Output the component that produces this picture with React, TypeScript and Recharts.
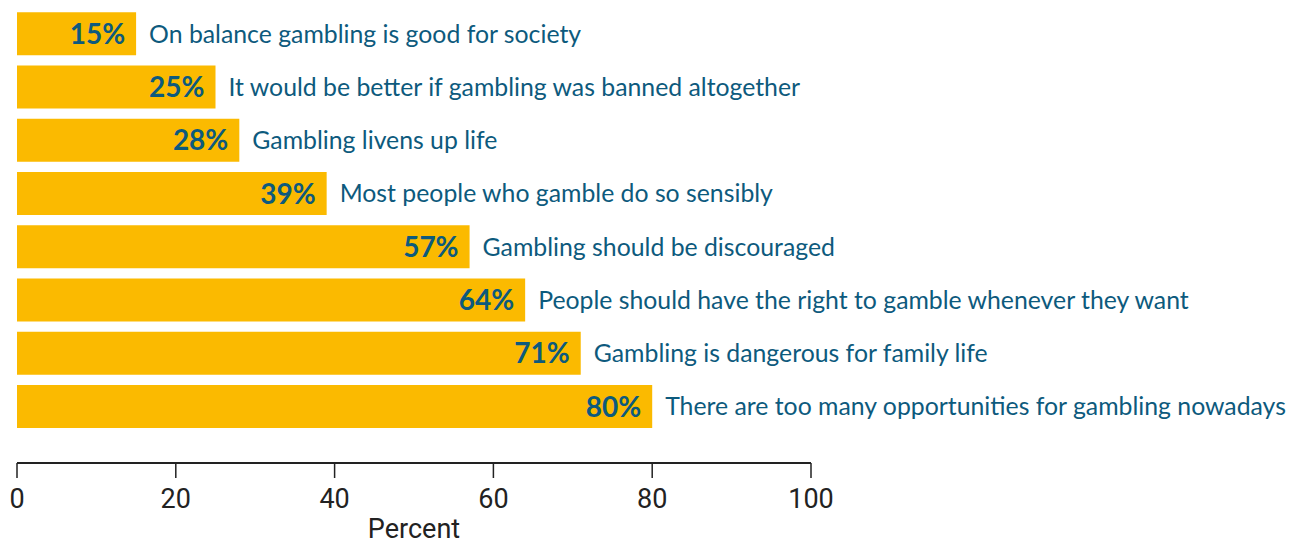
import React from "react";
import { BarChart, Bar, XAxis, YAxis, LabelList, Label } from "recharts";

const statements = [
  "On balance gambling is good for society",
  "It would be better if gambling was banned altogether",
  "Gambling livens up life",
  "Most people who gamble do so sensibly",
  "Gambling should be discouraged",
  "People should have the right to gamble whenever they want",
  "Gambling is dangerous for family life",
  "There are too many opportunities for gambling nowadays",
];
const percents = [15, 25, 28, 39, 57, 64, 71, 80];
const xTicks = [0, 20, 40, 60, 80, 100];

const data = statements.map((s, i) => ({ label: s, value: percents[i] }));

const TEXT = "#0d5a7d";
const AXIS = "#222222";

export default function App() {
  return (
    <div style={{ position: "absolute", left: 0, top: 0, width: 1298, height: 545, background: "#fff" }}>
      <BarChart
        width={1298}
        height={545}
        data={data}
        layout="vertical"
        margin={{ top: 7, right: 487, bottom: 0, left: 17 }}
        barCategoryGap="10%"
      >
        <YAxis type="category" dataKey="label" hide padding={{ top: 0, bottom: 30 }} />
        <XAxis
          type="number"
          domain={[0, 100]}
          ticks={xTicks}
          interval={0}
          height={82}
          tickSize={15}
          tickMargin={11}
          axisLine={{ stroke: AXIS, strokeWidth: 2 }}
          tickLine={{ stroke: AXIS, strokeWidth: 1.5 }}
          tick={{ fill: AXIS, fontSize: 27, fontFamily: "Roboto" }}
        >
          <Label value="Percent" position="insideBottom" offset={7} style={{ fill: AXIS, fontSize: 27, fontFamily: "Roboto" }} />
        </XAxis>
        <Bar dataKey="value" fill="#fbba00" isAnimationActive={false}>
          <LabelList
            dataKey="value"
            position="insideRight"
            offset={11}
            formatter={(v: any) => `${v}%`}
            style={{ fill: TEXT, fontSize: 28, fontWeight: 700, fontFamily: "Lato" }}
          />
          <LabelList
            dataKey="label"
            position="right"
            offset={13}
            style={{ fill: TEXT, fontSize: 24.8, fontFamily: "Lato" }}
          />
        </Bar>
      </BarChart>
    </div>
  );
}
